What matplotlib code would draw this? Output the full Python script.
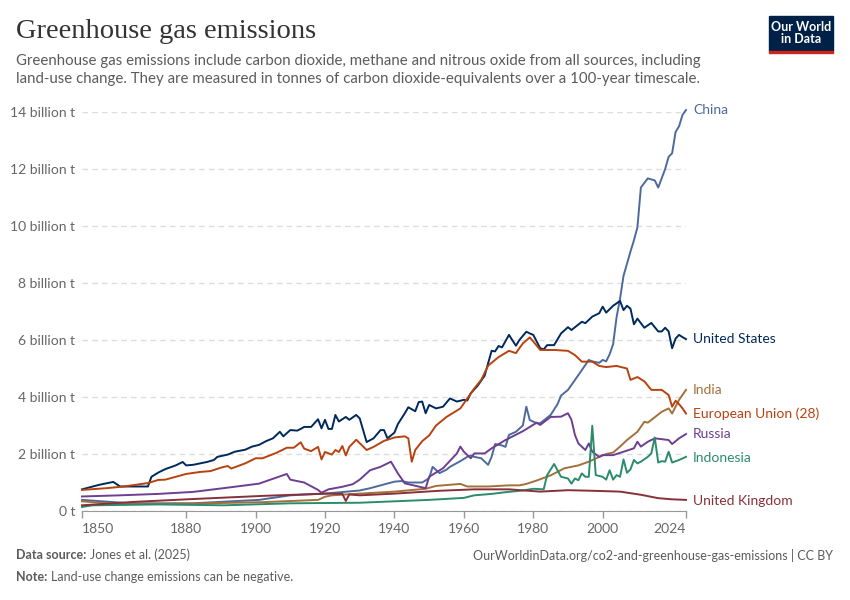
import matplotlib.pyplot as plt
from matplotlib.patches import Rectangle

# --- données (milliards de tonnes CO2e) ---
china_years = [1850, 1857, 1864, 1882, 1901, 1910, 1920, 1930, 1933, 1940, 1942, 1944, 1948,
               1950, 1951, 1953, 1955, 1956, 1959, 1961, 1962, 1963, 1965, 1967, 1968, 1969, 1971,
               1972, 1973, 1975, 1977, 1978, 1979, 1981, 1982, 1985, 1987, 1988, 1990, 1993,
               1996, 1997, 1999, 2000, 2001, 2002, 2003, 2004, 2005, 2006, 2008, 2009, 2010,
               2011, 2013, 2015, 2016, 2018, 2019, 2020, 2021, 2022, 2023, 2024]
china_values = [0.39, 0.33, 0.27, 0.27, 0.39, 0.55, 0.61, 0.72, 0.8, 1.03, 1.05, 1.0, 1.0,
                1.15, 1.55, 1.33, 1.45, 1.55, 1.75, 1.9, 1.95, 1.9, 1.85, 1.62, 1.9, 2.35, 2.3,
                2.25, 2.67, 2.78, 3.0, 3.66, 3.19, 3.08, 3.08, 3.37, 3.75, 4.05, 4.25, 4.77,
                5.3, 5.25, 5.2, 5.3, 5.25, 5.5, 5.85, 6.8, 7.45, 8.25, 9.1, 9.5, 9.95,
                11.35, 11.67, 11.6, 11.35, 12.0, 12.43, 12.55, 13.3, 13.5, 13.9, 14.07]

us_years = [1850, 1855, 1859, 1861, 1865, 1869, 1870, 1872, 1874, 1877, 1879, 1880, 1882, 1884,
            1886, 1888, 1889, 1892, 1894, 1897, 1899, 1901, 1903, 1905, 1907, 1908, 1910, 1912,
            1913, 1914, 1916, 1918, 1919, 1920, 1921, 1922, 1923, 1924, 1926, 1927, 1929, 1930,
            1932, 1934, 1936, 1937, 1938, 1940, 1941, 1943, 1944, 1946, 1947, 1948, 1949, 1950,
            1952, 1954, 1956, 1958, 1960, 1961, 1962, 1964, 1966, 1968, 1969, 1970, 1971, 1973,
            1975, 1976, 1978, 1979, 1980, 1982, 1983, 1984, 1986, 1988, 1990, 1991, 1994, 1995,
            1997, 1999, 2000, 2001, 2003, 2005, 2006, 2007, 2008, 2009, 2010, 2012, 2014, 2016,
            2017, 2018, 2019, 2020, 2021, 2022, 2023, 2024]
us_values = [0.76, 0.92, 1.02, 0.86, 0.86, 0.86, 1.2, 1.35, 1.47, 1.6, 1.72, 1.6, 1.62, 1.67,
             1.72, 1.79, 1.9, 1.98, 2.08, 2.15, 2.26, 2.32, 2.45, 2.55, 2.78, 2.62, 2.84, 2.82,
             2.88, 2.95, 2.95, 3.22, 2.9, 3.2, 2.88, 2.88, 3.37, 3.14, 3.3, 3.2, 3.37, 3.25,
             2.42, 2.55, 2.84, 2.84, 2.55, 2.75, 3.05, 3.43, 3.64, 3.5, 3.82, 3.84, 3.43, 3.72,
             3.6, 3.66, 3.95, 3.84, 3.9, 3.88, 4.13, 4.4, 4.75, 5.62, 5.6, 5.79, 5.74, 6.18,
             5.8, 6.0, 6.29, 6.23, 6.18, 5.71, 5.67, 5.82, 5.82, 6.23, 6.45, 6.35, 6.64, 6.59,
             6.82, 6.94, 7.17, 6.96, 7.2, 7.37, 7.05, 7.2, 7.1, 6.55, 6.75, 6.43, 6.6, 6.3,
             6.3, 6.43, 6.3, 5.71, 6.05, 6.18, 6.1, 6.03]

eu_years = [1850, 1857, 1862, 1869, 1872, 1874, 1877, 1880, 1884, 1887, 1890, 1892, 1893, 1897,
            1900, 1902, 1906, 1909, 1911, 1913, 1914, 1916, 1918, 1919, 1920, 1922, 1923, 1924,
            1925, 1926, 1927, 1929, 1930, 1932, 1934, 1937, 1940, 1943, 1944, 1945, 1946, 1948,
            1950, 1952, 1955, 1957, 1959, 1961, 1963, 1965, 1967, 1970, 1973, 1975, 1977, 1979,
            1980, 1982, 1986, 1990, 1992, 1994, 1997, 1999, 2001, 2004, 2007, 2008, 2010, 2012,
            2014, 2017, 2019, 2020, 2021, 2022, 2023, 2024]
eu_values = [0.74, 0.8, 0.86, 0.98, 1.09, 1.1, 1.2, 1.3, 1.37, 1.4, 1.52, 1.58, 1.49, 1.67,
             1.85, 1.85, 2.04, 2.22, 2.22, 2.41, 2.19, 2.1, 2.25, 1.81, 2.07, 1.98, 2.14, 2.07,
             2.28, 1.95, 2.25, 2.5, 2.38, 2.14, 2.25, 2.46, 2.58, 2.62, 2.55, 1.73, 2.14, 2.45,
             2.65, 3.0, 3.3, 3.45, 3.6, 3.95, 4.3, 4.6, 5.1, 5.4, 5.62, 5.54, 5.88, 6.09,
             5.95, 5.65, 5.65, 5.62, 5.47, 5.24, 5.24, 5.09, 5.05, 5.09, 5.0, 4.6, 4.7, 4.55,
             4.25, 4.25, 4.07, 3.66, 3.87, 3.75, 3.6, 3.42]

india_years = [1850, 1861, 1882, 1902, 1918, 1920, 1922, 1930, 1940, 1949, 1952, 1959, 1961,
               1967, 1973, 1976, 1978, 1981, 1985, 1989, 1993, 1996, 1999, 2001, 2003, 2005,
               2007, 2010, 2012, 2013, 2017, 2019, 2020, 2022, 2024]
india_values = [0.34, 0.24, 0.26, 0.31, 0.39, 0.5, 0.55, 0.61, 0.68, 0.78, 0.88, 0.95, 0.86,
                0.86, 0.9, 0.9, 0.95, 1.07, 1.25, 1.5, 1.6, 1.73, 1.9, 2.0, 2.05, 2.26,
                2.49, 2.78, 3.13, 3.1, 3.48, 3.6, 3.42, 3.9, 4.25]

russia_years = [1850, 1861, 1872, 1882, 1892, 1901, 1909, 1910, 1914, 1918, 1919, 1921, 1925,
                1928, 1930, 1933, 1936, 1939, 1941, 1943, 1949, 1950, 1954, 1958, 1959, 1960,
                1962, 1963, 1966, 1968, 1972, 1977, 1981, 1982, 1985, 1988, 1990, 1991, 1992,
                1993, 1995, 1996, 1997, 1999, 2000, 2003, 2006, 2009, 2010, 2011, 2013, 2015,
                2017, 2019, 2020, 2022, 2024]
russia_values = [0.51, 0.55, 0.6, 0.67, 0.82, 0.96, 1.3, 1.1, 1.0, 0.74, 0.64, 0.76, 0.85,
                 0.94, 1.1, 1.43, 1.55, 1.73, 1.32, 0.97, 0.8, 1.2, 1.5, 2.02, 2.26, 2.08,
                 1.85, 2.02, 2.02, 2.2, 2.49, 2.8, 3.1, 3.02, 3.3, 3.31, 3.43, 3.2, 2.67,
                 2.37, 2.14, 2.37, 2.08, 1.9, 1.96, 1.96, 2.08, 2.2, 2.43, 2.26, 2.43, 2.55,
                 2.52, 2.49, 2.35, 2.55, 2.7]

indonesia_years = [1850, 1853, 1872, 1891, 1910, 1930, 1950, 1960, 1963, 1968, 1972, 1977,
                   1980, 1983, 1984, 1986, 1988, 1990, 1991, 1992, 1993, 1994, 1995, 1996,
                   1997, 1998, 2000, 2001, 2002, 2003, 2004, 2005, 2006, 2007, 2008, 2009,
                   2010, 2011, 2013, 2014, 2015, 2016, 2017, 2018, 2019, 2020, 2022, 2024]
indonesia_values = [0.14, 0.2, 0.23, 0.2, 0.27, 0.29, 0.39, 0.46, 0.55, 0.6, 0.66, 0.72,
                    0.78, 0.76, 1.26, 1.65, 1.2, 1.14, 0.96, 1.14, 1.08, 1.32, 1.2, 1.2,
                    2.99, 1.26, 1.2, 1.1, 1.43, 1.1, 1.26, 1.2, 1.81, 1.34, 1.46, 1.79,
                    1.67, 1.73, 1.9, 2.02, 2.58, 1.7, 1.75, 1.73, 2.08, 1.7, 1.79, 1.9]

uk_years = [1850, 1865, 1882, 1902, 1920, 1925, 1926, 1927, 1930, 1940, 1953, 1963, 1973,
            1982, 1990, 1997, 2005, 2011, 2016, 2020, 2024]
uk_values = [0.2, 0.32, 0.42, 0.53, 0.61, 0.6, 0.35, 0.58, 0.55, 0.61, 0.71, 0.76, 0.76,
             0.68, 0.73, 0.71, 0.68, 0.57, 0.45, 0.41, 0.39]

series = [
    ("China", china_years, china_values, "#4C6A9C", 14.07),
    ("United States", us_years, us_values, "#00295B", 6.03),
    ("India", india_years, india_values, "#A2703C", 4.25),
    ("European Union (28)", eu_years, eu_values, "#B8420F", 3.42),
    ("Russia", russia_years, russia_values, "#6D3E91", 2.7),
    ("Indonesia", indonesia_years, indonesia_values, "#2C8C6A", 1.85),
    ("United Kingdom", uk_years, uk_values, "#883039", 0.35),
]

y_ticks = [0, 2, 4, 6, 8, 10, 12, 14]
y_tick_labels = ["0 t", "2 billion t", "4 billion t", "6 billion t", "8 billion t",
                 "10 billion t", "12 billion t", "14 billion t"]
x_ticks = [1850, 1880, 1900, 1920, 1940, 1960, 1980, 2000, 2024]

plt.rcParams['font.family'] = ['Lato', 'DejaVu Sans']

fig = plt.figure(figsize=(8.5, 6), dpi=100)
ax = fig.add_axes([82 / 850, 89 / 600, 604 / 850, 399 / 600])

for nom, annees, valeurs, couleur, pos_label in series:
    ax.plot(annees, valeurs, color=couleur, linewidth=1.4, clip_on=False, zorder=3)
    ax.annotate(nom, xy=(1, pos_label), xycoords=('axes fraction', 'data'),
                xytext=(5, 0), textcoords='offset points', va='center', ha='left',
                fontsize=10, color=couleur)

ax.set_xlim(1850, 2024)
ax.set_ylim(0, 14)
ax.set_yticks(y_ticks)
ax.set_yticklabels(y_tick_labels)
ax.set_xticks(x_ticks)
ax.tick_params(axis='y', length=0, pad=5, labelsize=10, labelcolor='#666666')
ax.tick_params(axis='x', length=5, width=1, color='#999999', labelsize=10, labelcolor='#666666')
# premier et dernier label alignés comme sur OWID
etiquettes_x = ax.get_xticklabels()
etiquettes_x[0].set_horizontalalignment('left')
etiquettes_x[-1].set_horizontalalignment('right')
ax.grid(axis='y', color='#dddddd', linestyle=(0, (4, 3)), linewidth=1)
ax.set_axisbelow(True)
for cote in ['top', 'right', 'left']:
    ax.spines[cote].set_visible(False)
ax.spines['bottom'].set_color('#999999')

# titre et sous-titre
fig.text(16 / 850, 1 - 32 / 600, "Greenhouse gas emissions", fontsize=20.5, color='#333333',
         family=['Liberation Serif', 'DejaVu Serif'], va='center', ha='left')
fig.text(16 / 850, 1 - 70 / 600,
         "Greenhouse gas emissions include carbon dioxide, methane and nitrous oxide from all sources, including\n"
         "land-use change. They are measured in tonnes of carbon dioxide-equivalents over a 100-year timescale.",
         fontsize=10.8, color='#5b5b5b', va='center', ha='left', linespacing=1.35)

# logo
fig.patches.append(Rectangle((769 / 850, 1 - 51 / 600), 64 / 850, 35 / 600,
                             transform=fig.transFigure, color='#002147', zorder=1))
fig.patches.append(Rectangle((769 / 850, 1 - 53 / 600), 64 / 850, 2.5 / 600,
                             transform=fig.transFigure, color='#CE261E', zorder=1))
fig.text(801 / 850, 1 - 33 / 600, "Our World\nin Data", fontsize=9, color='white',
         weight='bold', ha='center', va='center', linespacing=1.05, zorder=2)

# pied de page
fig.text(16 / 850, 1 - 555 / 600, "Data source:", fontsize=9, color='#5b5b5b',
         weight='bold', va='center', ha='left')
fig.text(90 / 850, 1 - 555 / 600, "Jones et al. (2025)", fontsize=9, color='#5b5b5b',
         va='center', ha='left')
fig.text(16 / 850, 1 - 577 / 600, "Note:", fontsize=9, color='#5b5b5b',
         weight='bold', va='center', ha='left')
fig.text(51 / 850, 1 - 577 / 600, "Land-use change emissions can be negative.", fontsize=9,
         color='#5b5b5b', va='center', ha='left')
fig.text(833 / 850, 1 - 555 / 600, "OurWorldinData.org/co2-and-greenhouse-gas-emissions | CC BY",
         fontsize=9, color='#5b5b5b', va='center', ha='right')

fig.savefig("out.png", dpi=100, facecolor='white')
